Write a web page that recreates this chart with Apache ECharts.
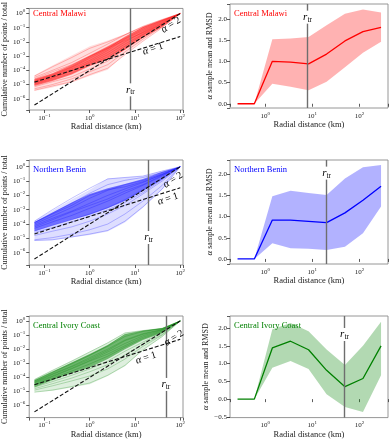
<!DOCTYPE html>
<html><head><meta charset="utf-8">
<script src="https://cdn.jsdelivr.net/npm/echarts@6/dist/echarts.min.js"></script>
<style>html,body{margin:0;padding:0;background:#fff}#c{width:391px;height:440px}</style>
</head><body><div id="c"></div>
<script>
// ---------- DATA ----------
// Left panels: radial distance grid (km) and log10 of cumulative fraction
const cumRadii = [0.06, 0.15, 0.4, 1, 2.5, 6, 15, 40, 100];

const malawiEnvUpperLog = [-4.35, -3.65, -2.95, -2.3, -1.9, -1.45, -0.9, -0.4, 0];
const malawiEnvLowerLog = [-5.45, -5.2, -4.85, -4.4, -3.95, -2.85, -1.9, -1.0, 0];
const malawiCoreUpperLog = [-4.6, -4.2, -3.6, -2.95, -2.3, -1.65, -0.95, -0.45, 0];
const malawiCoreLowerLog = [-5.1, -4.75, -4.3, -3.7, -3.25, -2.55, -1.7, -0.95, 0];
const malawiCurvesLog = [
  [-4.5, -4.0, -3.45, -2.8, -2.15, -1.5, -0.9, -0.42, 0],
  [-4.7, -4.3, -3.75, -3.05, -2.4, -1.75, -1.1, -0.5, 0],
  [-4.9, -4.5, -4.05, -3.4, -2.75, -2.0, -1.3, -0.6, 0],
  [-5.0, -4.65, -4.2, -3.6, -3.05, -2.3, -1.5, -0.75, 0],
  [-5.3, -5.0, -4.6, -4.1, -3.6, -2.7, -1.8, -0.9, 0],
  [-4.4, -3.75, -3.1, -2.45, -2.0, -1.5, -0.95, -0.45, 0],
  [-4.8, -4.4, -3.9, -3.3, -2.6, -1.8, -1.2, -0.55, 0],
  [-5.15, -4.8, -4.45, -3.9, -3.35, -2.5, -1.65, -0.8, 0],
  [-4.6, -4.1, -3.6, -3.0, -2.45, -1.9, -1.35, -0.7, 0],
  [-5.4, -5.1, -4.8, -4.3, -3.85, -2.9, -1.95, -1.0, 0],
  [-4.75, -4.35, -3.8, -3.15, -2.5, -1.65, -1.0, -0.48, 0],
  [-4.95, -4.55, -4.0, -3.5, -2.9, -2.15, -1.45, -0.68, 0]
];

const beninEnvUpperLog = [-3.79, -3.05, -2.28, -1.6, -0.83, -0.74, -0.65, -0.28, 0];
const beninEnvLowerLog = [-5.17, -5.13, -4.94, -4.76, -4.52, -3.9, -2.86, -1.59, 0];
const beninCoreUpperLog = [-3.85, -3.2, -2.5, -1.9, -1.5, -1.2, -0.85, -0.35, 0];
const beninCoreLowerLog = [-4.5, -4.1, -3.7, -3.35, -2.9, -2.4, -1.7, -0.9, 0];
const beninCurvesLog = [
  [-3.8, -3.0, -2.2, -1.5, -0.85, -0.75, -0.65, -0.3, 0],
  [-3.9, -3.25, -2.55, -1.85, -1.25, -0.95, -0.75, -0.4, 0],
  [-4.0, -3.45, -2.85, -2.2, -1.65, -1.25, -0.95, -0.5, 0],
  [-4.1, -3.6, -3.1, -2.55, -2.0, -1.55, -1.1, -0.55, 0],
  [-4.3, -3.85, -3.4, -2.9, -2.4, -1.85, -1.3, -0.65, 0],
  [-4.5, -4.1, -3.7, -3.3, -2.85, -2.3, -1.6, -0.8, 0],
  [-4.8, -4.5, -4.2, -3.8, -3.3, -2.7, -1.9, -1.0, 0],
  [-5.1, -4.95, -4.7, -4.4, -4.0, -3.3, -2.4, -1.3, 0],
  [-3.9, -3.3, -2.7, -2.0, -1.6, -1.4, -1.05, -0.55, 0],
  [-4.2, -3.7, -3.15, -2.7, -2.25, -1.7, -1.25, -0.6, 0],
  [-4.6, -4.25, -3.85, -3.45, -3.0, -2.5, -1.8, -0.9, 0],
  [-5.15, -5.1, -4.9, -4.7, -4.45, -3.8, -2.8, -1.55, 0]
];

const ivoryEnvUpperLog = [-4.13, -3.49, -2.8, -2.17, -1.52, -0.83, -0.67, -0.55, 0];
const ivoryEnvLowerLog = [-5.06, -4.94, -4.71, -4.48, -3.9, -3.21, -2.06, -1.13, 0];
const ivoryCoreUpperLog = [-4.2, -3.6, -2.95, -2.35, -1.7, -0.95, -0.7, -0.5, 0];
const ivoryCoreLowerLog = [-4.7, -4.2, -3.7, -3.3, -2.7, -2.0, -1.35, -0.85, 0];
const ivoryCurvesLog = [
  [-4.15, -3.5, -2.85, -2.2, -1.55, -0.85, -0.68, -0.55, 0],
  [-4.2, -3.6, -3.0, -2.4, -1.8, -1.1, -0.75, -0.55, 0],
  [-4.3, -3.75, -3.2, -2.6, -2.0, -1.35, -0.9, -0.6, 0],
  [-4.4, -3.9, -3.35, -2.8, -2.2, -1.6, -1.05, -0.65, 0],
  [-4.55, -4.05, -3.55, -3.05, -2.5, -1.85, -1.25, -0.75, 0],
  [-4.7, -4.3, -3.85, -3.4, -2.85, -2.15, -1.5, -0.85, 0],
  [-4.9, -4.6, -4.25, -3.9, -3.4, -2.7, -1.8, -1.0, 0],
  [-5.05, -4.9, -4.65, -4.4, -3.85, -3.15, -2.05, -1.1, 0],
  [-4.25, -3.65, -3.05, -2.45, -1.75, -0.95, -0.7, -0.52, 0],
  [-4.5, -3.95, -3.4, -2.85, -2.35, -1.75, -1.15, -0.7, 0],
  [-4.8, -4.45, -4.05, -3.6, -3.1, -2.4, -1.65, -0.95, 0],
  [-4.35, -3.8, -3.25, -2.7, -2.1, -1.4, -0.95, -0.62, 0]
];

// dashed reference lines (alpha = 1 and alpha = 2): [radius, fraction] end points
const malawiAlpha1 = [[0.06, 1.48e-5], [100, 0.024]];
const beninAlpha1 = [[0.06, 2.04e-5], [100, 0.034]];
const ivoryAlpha1 = [[0.06, 3.0e-5], [100, 0.05]];
const alpha2Line = [[0.06, 3.6e-7], [100, 1]];

// transition radii (km)
const malawiRtr = 7.9;
const beninRtr = 20;
const ivoryRtr = 48;

// Right panels: alpha sample mean and RMSD band
const alphaRadii = [0.26, 0.59, 1.42, 3.45, 8.3, 20, 49, 118, 285];
const malawiMean = [0, 0, 1.0, 0.98, 0.94, 1.17, 1.48, 1.70, 1.80];
const malawiUpper = [0, 0, 1.52, 1.54, 1.57, 1.85, 2.12, 2.22, 2.15];
const malawiLower = [0, 0, 0.47, 0.40, 0.32, 0.52, 0.86, 1.20, 1.46];
const beninMean = [0, 0, 0.92, 0.92, 0.89, 0.86, 1.09, 1.39, 1.72];
const beninUpper = [0, 0, 1.48, 1.61, 1.56, 1.51, 1.90, 2.17, 2.22];
const beninLower = [0, 0, 0.37, 0.25, 0.24, 0.21, 0.29, 0.61, 1.24];
const ivoryMean = [0, 0, 1.44, 1.63, 1.39, 0.81, 0.35, 0.58, 1.50];
const ivoryUpper = [0, 0, 1.97, 2.14, 1.91, 1.40, 0.96, 1.50, 2.18];
const ivoryLower = [0, 0, 0.88, 1.07, 0.85, 0.14, -0.22, -0.36, 0.67];

const regionNames = ['Central Malawi', 'Northern Benin', 'Central Ivory Coast'];

// ---------- BUILD ----------
const SERIF = '"Liberation Serif","DejaVu Serif",serif';
const TXT = '#222';
const panels = [
  {name: regionNames[0], color: '#ff0000', rgb: '255,0,0', env: [malawiEnvLowerLog, malawiEnvUpperLog], core: [malawiCoreLowerLog, malawiCoreUpperLog], curves: malawiCurvesLog, a1: malawiAlpha1, rtr: malawiRtr, mean: malawiMean, up: malawiUpper, lo: malawiLower},
  {name: regionNames[1], color: '#0000ff', rgb: '0,0,255', env: [beninEnvLowerLog, beninEnvUpperLog], core: [beninCoreLowerLog, beninCoreUpperLog], curves: beninCurvesLog, a1: beninAlpha1, rtr: beninRtr, mean: beninMean, up: beninUpper, lo: beninLower},
  {name: regionNames[2], color: '#008000', rgb: '0,128,0', env: [ivoryEnvLowerLog, ivoryEnvUpperLog], core: [ivoryCoreLowerLog, ivoryCoreUpperLog], curves: ivoryCurvesLog, a1: ivoryAlpha1, rtr: ivoryRtr, mean: ivoryMean, up: ivoryUpper, lo: ivoryLower}
];
// layout
const rowTops = [4, 160, 316];
const leftHeights = [106, 105, 104];
const rightHeights = [104, 104, 104];
const leftYRange = [[-6.79, 0.357], [-6.86, 0.47], [-6.85, 0.35]];
const rightYRange = [[-0.1, 2.35], [-0.12, 2.34], [-0.52, 2.34]];

const pw = e => Math.pow(10, e);
function logLabel(v) {
  const e = Math.log10(v), r = Math.round(e);
  if (Math.abs(e - r) > 1e-3) return '';
  return '{b|10}{s|' + (r < 0 ? '\u2212' + (-r) : String(r)) + '}';
}
function linLabel(v) {
  if (Math.abs(v * 2 - Math.round(v * 2)) > 1e-6) return '';
  return (v < 0 ? '\u2212' : '') + Math.abs(v).toFixed(1);
}
const labRich = {
  b: {fontSize: 7, fontFamily: SERIF, color: TXT},
  s: {fontSize: 5, fontFamily: SERIF, color: TXT, padding: [0, 0, 5, 0]}
};
const tickStyle = {length: 3, lineStyle: {color: '#333', width: 0.8}};
const nameStyle = {fontFamily: SERIF, fontSize: 8.5, color: TXT};

const grid = [], xAxis = [], yAxis = [], series = [];

function band(gi, xs, lo, hi, fill, z) {
  return {
    type: 'custom', xAxisIndex: gi, yAxisIndex: gi, silent: true, z: z,
    data: [[xs[0], hi[0]]],
    renderItem: function (params, api) {
      const pts = [];
      for (let k = 0; k < xs.length; k++) pts.push(api.coord([xs[k], hi[k]]));
      for (let k = xs.length - 1; k >= 0; k--) pts.push(api.coord([xs[k], lo[k]]));
      return {type: 'polygon', shape: {points: pts}, style: {fill: fill}};
    }
  };
}
function rtrMark(x) {
  return {symbol: 'none', silent: true, label: {show: false},
    lineStyle: {color: '#6e6e6e', width: 1.4, type: 'solid'}, data: [{xAxis: x}]};
}

panels.forEach((p, r) => {
  const gl = r * 2, gr = r * 2 + 1;
  grid.push({left: 29, top: rowTops[r], width: 154, height: leftHeights[r], show: true, borderColor: '#8a8a8a', borderWidth: 0.9});
  grid.push({left: 230, top: rowTops[r], width: 160, height: rightHeights[r], show: true, borderColor: '#8a8a8a', borderWidth: 0.9});
  // left axes
  xAxis.push({type: 'log', gridIndex: gl, min: 0.046, max: 115, splitNumber: 4,
    axisLine: {show: false}, axisTick: tickStyle, splitLine: {show: false},
    axisLabel: {formatter: logLabel, rich: labRich, margin: 3},
    name: 'Radial distance (km)', nameLocation: 'middle', nameGap: 12, nameTextStyle: nameStyle});
  yAxis.push({type: 'log', gridIndex: gl, min: pw(leftYRange[r][0]), max: pw(leftYRange[r][1]), splitNumber: 7,
    axisLine: {show: false}, axisTick: tickStyle, splitLine: {show: false},
    axisLabel: {formatter: logLabel, rich: labRich, margin: 4},
    name: 'Cumulative number of points / total', nameLocation: 'middle', nameGap: 19,
    nameTextStyle: {fontFamily: SERIF, fontSize: 8, color: TXT}});
  // right axes
  xAxis.push({type: 'log', gridIndex: gr, min: 0.18, max: 400, splitNumber: 3,
    axisLine: {show: false}, axisTick: tickStyle, splitLine: {show: false},
    axisLabel: {formatter: logLabel, rich: labRich, margin: 3},
    name: 'Radial distance (km)', nameLocation: 'middle', nameGap: 12, nameTextStyle: nameStyle});
  yAxis.push({type: 'value', gridIndex: gr, min: rightYRange[r][0], max: rightYRange[r][1], splitNumber: 5,
    axisLine: {show: false}, axisTick: tickStyle, splitLine: {show: false},
    axisLabel: {formatter: linLabel, fontFamily: SERIF, fontSize: 7, color: TXT, margin: 3},
    name: '{a|\u03b1} sample mean and RMSD', nameLocation: 'middle', nameGap: 16,
    nameTextStyle: {fontFamily: SERIF, fontSize: 8, color: TXT,
      rich: {a: {fontFamily: SERIF, fontStyle: 'italic', fontSize: 9, color: TXT}}}});

  // left: bundle envelopes
  series.push(band(gl, cumRadii, p.env[0].map(pw), p.env[1].map(pw), 'rgba(' + p.rgb + ',0.13)', 1));
  series.push(band(gl, cumRadii, p.core[0].map(pw), p.core[1].map(pw), 'rgba(' + p.rgb + ',0.5)', 2));
  p.curves.forEach(c => {
    series.push({type: 'line', xAxisIndex: gl, yAxisIndex: gl, silent: true, symbol: 'none', z: 3,
      data: cumRadii.map((x, k) => [x, pw(c[k])]),
      lineStyle: {color: p.color, width: 0.7, opacity: 0.35}});
  });
  series.push({type: 'line', xAxisIndex: gl, yAxisIndex: gl, silent: true, symbol: 'none', z: 5,
    data: p.a1, lineStyle: {color: '#111', width: 1.1, type: [4, 2]}, markLine: rtrMark(p.rtr)});
  series.push({type: 'line', xAxisIndex: gl, yAxisIndex: gl, silent: true, symbol: 'none', z: 5,
    data: alpha2Line, lineStyle: {color: '#111', width: 1.1, type: [4, 2]}});
  // right: RMSD band and mean
  series.push(band(gr, alphaRadii, p.lo, p.up, 'rgba(' + p.rgb + ',0.3)', 1));
  series.push({type: 'line', xAxisIndex: gr, yAxisIndex: gr, silent: true, symbol: 'none', z: 4,
    data: alphaRadii.map((x, k) => [x, p.mean[k]]),
    lineStyle: {color: p.color, width: 1.3}, markLine: rtrMark(p.rtr)});
});

const chart = echarts.init(document.getElementById('c'), null, {renderer: 'canvas'});
chart.setOption({animation: false, backgroundColor: '#fff', grid, xAxis, yAxis, series});

// ---------- annotations ----------
const g = [];
const titleFont = {fontFamily: SERIF, fontSize: 8.5};
panels.forEach((p, r) => {
  const y = rowTops[r] + 10;
  [33, 234].forEach(x => g.push({type: 'text', x: x, y: y, z: 50, silent: true,
    style: Object.assign({text: p.name, fill: p.color, verticalAlign: 'middle', align: 'left'}, titleFont)}));
});
// r_tr labels anchored at data coords
const rtrLabelY = [[pw(-5.37), 2.04], [pw(-4.94), 2.03], [pw(-4.5), 1.82]];
const rtrRich = {
  r: {fontFamily: SERIF, fontStyle: 'italic', fontSize: 11, color: '#333'},
  t: {fontFamily: SERIF, fontSize: 7.5, color: '#333', padding: [5, 0, 0, 0]}
};
panels.forEach((p, r) => {
  [0, 1].forEach(side => {
    const pt = chart.convertToPixel({gridIndex: r * 2 + side}, [p.rtr, rtrLabelY[r][side]]);
    g.push({type: 'text', x: pt[0], y: pt[1], z: 50, silent: true,
      style: {text: '{r|r}{t|tr}', rich: rtrRich, align: 'center', verticalAlign: 'middle',
        backgroundColor: '#fff', padding: [0, 1, 0, 1]}});
  });
});
// alpha labels along dashed lines
const alphaLabelPos = [
  [[171, 25], [153, 49]],
  [[173, 180], [168, 199]],
  [[174, 338], [146, 358]]
];
const aRich = {a: {fontFamily: SERIF, fontStyle: 'italic', fontSize: 10.5, color: '#333'},
  n: {fontFamily: SERIF, fontSize: 10, color: '#333'}};
panels.forEach((p, r) => {
  [[alpha2Line, '2'], [p.a1, '1']].forEach((item, j) => {
    const a = chart.convertToPixel({gridIndex: r * 2}, item[0][0]);
    const b = chart.convertToPixel({gridIndex: r * 2}, item[0][1]);
    const rot = Math.atan2(a[1] - b[1], b[0] - a[0]);
    const pos = alphaLabelPos[r][j];
    g.push({type: 'text', x: pos[0], y: pos[1], rotation: rot, z: 50, silent: true,
      style: {text: '{a|\u03b1}{n| = ' + item[1] + '}', rich: aRich, align: 'center', verticalAlign: 'middle'}});
  });
});
chart.setOption({graphic: g});
</script></body></html>
